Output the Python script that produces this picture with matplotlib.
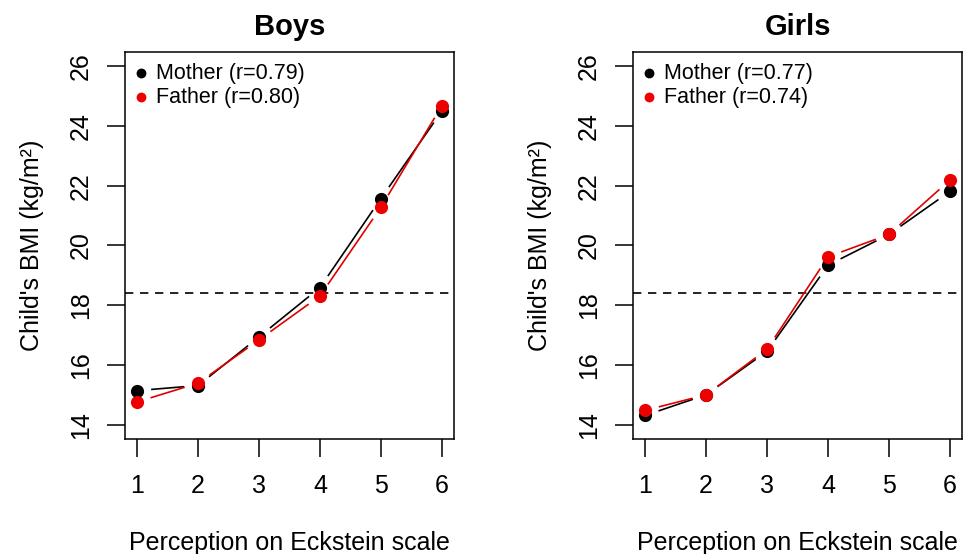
import matplotlib.pyplot as plt
import numpy as np

plt.rcParams['font.family'] = ['Liberation Sans', 'DejaVu Sans']

scale = [1, 2, 3, 4, 5, 6]
boys_mother = [15.14, 15.31, 16.94, 18.59, 21.57, 24.50]
boys_father = [14.76, 15.39, 16.84, 18.31, 21.28, 24.68]
girls_mother = [14.31, 15.00, 16.46, 19.34, 20.37, 21.81]
girls_father = [14.48, 15.00, 16.53, 19.62, 20.37, 22.19]
boys_r = ["0.79", "0.80"]
girls_r = ["0.77", "0.74"]
cutoff = 18.4
yticks = [14, 16, 18, 20, 22, 24, 26]


def gapped_line(ax, x, y, color, gap=14):
    # R-style type="b": segments stop short of the points
    pts = ax.transData.transform(np.column_stack([x, y]))
    inv = ax.transData.inverted()
    for p0, p1 in zip(pts[:-1], pts[1:]):
        d = p1 - p0
        n = np.hypot(*d)
        if n <= 2 * gap:
            continue
        u = d / n
        a = inv.transform(p0 + u * gap)
        b = inv.transform(p1 - u * gap)
        ax.plot([a[0], b[0]], [a[1], b[1]], color=color, lw=1.2, solid_capstyle='butt')


def panel(ax, title, mother, father, r):
    ax.set_xlim(0.8, 6.2)
    ax.set_ylim(13.52, 26.48)
    ax.axhline(cutoff, color='black', lw=1.2, ls=(0, (5, 4)))
    gapped_line(ax, scale, mother, 'black')
    gapped_line(ax, scale, father, '#e00000')
    ax.scatter(scale, mother, s=90, color='black', zorder=3, lw=0)
    ax.scatter(scale, father, s=90, color='#ee0000', zorder=4, lw=0)
    ax.scatter([], [], s=50, color='black', lw=0, label='Mother (r=%s)' % r[0])
    ax.scatter([], [], s=50, color='#ee0000', lw=0, label='Father (r=%s)' % r[1])
    ax.legend(loc='upper left', frameon=False, fontsize=15.5, handletextpad=0.3,
              borderaxespad=0.2, labelspacing=0.15, handlelength=0.8,
              borderpad=0.3, bbox_to_anchor=(-0.01, 1.0))
    ax.set_xticks(scale)
    ax.set_yticks(yticks)
    ax.tick_params(length=13, width=1.1, labelsize=18)
    ax.tick_params(axis='x', pad=12)
    ax.tick_params(axis='y', pad=10)
    for lab in ax.get_yticklabels():
        lab.set_rotation(90)
        lab.set_va('center')
    for s in ax.spines.values():
        s.set_linewidth(1.1)
    ax.set_title(title, fontsize=21, fontweight='bold', pad=12)
    ax.set_xlabel('Perception on Eckstein scale', fontsize=18, labelpad=24)
    ax.set_ylabel("Child's BMI (kg/m²)", fontsize=18, labelpad=18)


fig = plt.figure(figsize=(9.65, 5.54), dpi=100)
ax1 = fig.add_axes([0.1295, 0.2076, 0.341, 0.6986])
ax2 = fig.add_axes([0.656, 0.2076, 0.341, 0.6986])
panel(ax1, 'Boys', boys_mother, boys_father, boys_r)
panel(ax2, 'Girls', girls_mother, girls_father, girls_r)

fig.savefig('out.png', dpi=100)
